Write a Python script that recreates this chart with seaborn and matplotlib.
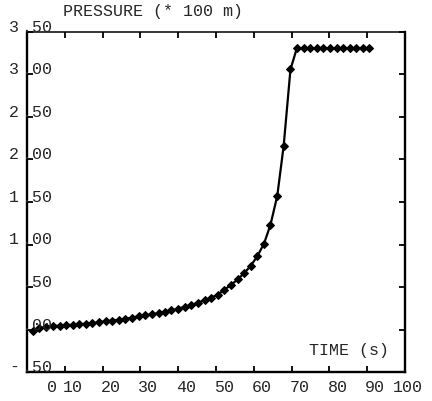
import seaborn as sns
import pandas as pd
import matplotlib.pyplot as plt
from matplotlib import transforms

# data
time_s = [1.6, 3.3, 5.1, 6.8, 8.6, 10.3, 12.1, 13.8, 15.6, 17.3,
          19.1, 20.8, 22.5, 24.3, 26.0, 27.8, 29.5, 31.3, 33.0, 34.8,
          36.5, 38.2, 40.0, 41.7, 43.5, 45.2, 47.0, 48.7, 50.5, 52.2,
          53.9, 55.7, 57.4, 59.2, 60.9, 62.7, 64.4, 66.2, 67.9, 69.7,
          71.4, 73.2, 74.9, 76.7, 78.4, 80.2, 81.9, 83.7, 85.4, 87.1,
          88.9, 90.6]
pressure = [-0.02, 0.02, 0.03, 0.04, 0.045, 0.05, 0.055, 0.06, 0.07, 0.075,
            0.085, 0.095, 0.105, 0.115, 0.125, 0.14, 0.155, 0.165, 0.18, 0.19,
            0.21, 0.225, 0.245, 0.265, 0.29, 0.315, 0.345, 0.375, 0.41, 0.47,
            0.52, 0.59, 0.66, 0.75, 0.86, 1.01, 1.23, 1.57, 2.16, 3.06,
            3.31, 3.31, 3.31, 3.31, 3.31, 3.31, 3.31, 3.31, 3.31, 3.31,
            3.31, 3.31]

x_ticks = [0, 10, 20, 30, 40, 50, 60, 70, 80, 90, 100]
x_labels = ["0", "10", "20", "30", "40", "50", "60", "70", "80", "90", "100"]
y_ticks = [-0.5, 0.0, 0.5, 1.0, 1.5, 2.0, 2.5, 3.0, 3.5]
y_int = ["-", "", "", "1", "1", "2", "2", "3", "3"]
y_frac = [".50", ".00", ".50", ".00", ".50", ".00", ".50", ".00", ".50"]

df = pd.DataFrame({"time": time_s, "pressure": pressure})

#%% style
sns.set_style("ticks")
plt.rcParams['font.family'] = ['Liberation Mono', 'DejaVu Sans']

fig = plt.figure(figsize=(4.32, 4.01), dpi=100)
ax = fig.add_axes([27/432, 1 - 372/401, 378/432, 340/401])

sns.lineplot(data=df, x="time", y="pressure", color="black", lw=1.6,
             marker="D", markersize=4.5, markeredgecolor="black", ax=ax)

ax.set_xlim(0, 100)
ax.set_ylim(-0.5, 3.5)
ax.set_xticks(x_ticks)
ax.set_yticks(y_ticks)
ax.tick_params(direction="in", top=True, right=True, length=4, width=1.3,
               labelleft=False, labelbottom=False, color="black")
ax.set_xlabel("")
ax.set_ylabel("")
for side in ["left", "bottom", "right"]:
    ax.spines[side].set_linewidth(1.7)
ax.spines["top"].set_linewidth(1.1)
for s in ax.spines.values():
    s.set_color("black")

fs = 12
# y labels with the decimal point on the axis
ytr = transforms.blended_transform_factory(ax.transAxes, ax.transData)
for yv, a, b in zip(y_ticks, y_int, y_frac):
    off_l = transforms.ScaledTranslation(-8/100, 0, fig.dpi_scale_trans)
    off_r = transforms.ScaledTranslation(-5/100, 0, fig.dpi_scale_trans)
    if a:
        ax.text(0, yv, a, transform=ytr + off_l, ha="right", va="baseline",
                fontsize=fs, clip_on=False)
    ax.text(0, yv, b, transform=ytr + off_r, ha="left", va="baseline",
            fontsize=fs, clip_on=False)

# x labels sit a bit right of their ticks
xtr = transforms.blended_transform_factory(ax.transData, ax.transAxes)
for xv, lab in zip(x_ticks, x_labels):
    dx = 18 if lab not in ("0",) else 30
    off = transforms.ScaledTranslation(dx/100, -16/100, fig.dpi_scale_trans)
    ax.text(xv, 0, lab, transform=xtr + off, ha="right", va="center",
            fontsize=fs, clip_on=False)

ax.text(0.095, 1.059, "PRESSURE (* 100 m)", transform=ax.transAxes,
        ha="left", va="center", fontsize=fs)
ax.text(0.958, 0.063, "TIME (s)", transform=ax.transAxes,
        ha="right", va="center", fontsize=fs)

plt.savefig("out.png", dpi=100)
